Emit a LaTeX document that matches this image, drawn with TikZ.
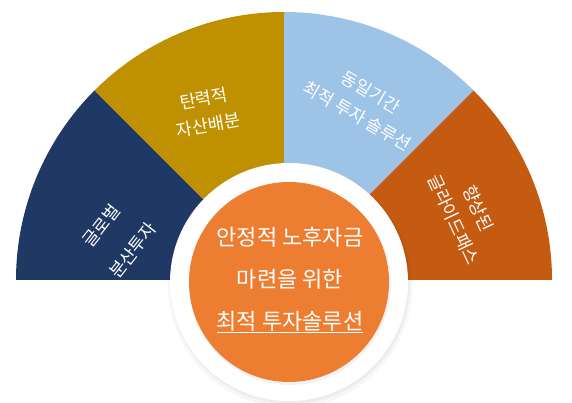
\documentclass[tikz,border=0pt]{standalone}
\usepackage{fontspec}
\newfontfamily\krfont{Noto Sans CJK KR}
\definecolor{navyfan}{HTML}{203864}
\definecolor{goldfan}{HTML}{BF9000}
\definecolor{skyfan}{HTML}{9DC3E6}
\definecolor{rustfan}{HTML}{C55A11}
\definecolor{corefill}{HTML}{ED7D31}
\tikzset{
	fanlabel/.style={text=white, align=center, inner sep=0pt, font=\krfont\fontsize{17.5}{27}\selectfont},
	corelabel/.style={text=white, align=center, inner sep=0pt, font=\krfont\fontsize{22}{42}\selectfont}
}
\begin{document}
\begin{tikzpicture}[x=1pt,y=1pt]
	\useasboundingbox (0,0) rectangle (572,403);

	\pgfmathsetmacro{\R}{268}
	\pgfmathsetmacro{\Rw}{119}
	\pgfmathsetmacro{\Rc}{100}

	\coordinate (fan) at (284,123);
	\coordinate (core) at (289,121);

	% Draw the sectors
	\fill[navyfan] (fan) -- ++(180:\R) arc[start angle=180, end angle=135, radius=\R] -- cycle;
	\fill[goldfan] (fan) -- ++(135:\R) arc[start angle=135, end angle=90, radius=\R] -- cycle;
	\fill[skyfan]  (fan) -- ++(90:\R)  arc[start angle=90,  end angle=45, radius=\R] -- cycle;
	\fill[rustfan] (fan) -- ++(45:\R)  arc[start angle=45,  end angle=0,  radius=\R] -- cycle;

	% Draw the white ring and its shadow
	\fill[black, opacity=0.03] ([shift={(1,-4)}]core) circle (\Rw+3);
	\fill[black, opacity=0.04] ([shift={(1,-2)}]core) circle (\Rw+1);
	\fill[white] (core) circle (\Rw);
	\fill[black, opacity=0.05] ([shift={(1,-2)}]core) circle (\Rc+1);
	\fill[corefill] (core) circle (\Rc);

	% Label the sectors
	\node[fanlabel, rotate=52, font=\krfont\fontsize{17.5}{40}\selectfont] (global) at (117,165) {글로벌\\분산투자};
	\node[fanlabel, rotate=10]  (asset)  at (206,291) {탄력적\\자산배분};
	\node[fanlabel, rotate=-30] (period) at (364,299) {동일기간\\최적 투자 솔루션};
	\node[fanlabel, rotate=-65] (glide)  at (466,189) {향상된\\글라이드패스};

	% Label the core
	\node[corelabel] (goal) at (290,123) {안정적 노후자금\\마련을 위한\\\underline{최적 투자솔루션}};
\end{tikzpicture}
\end{document}
